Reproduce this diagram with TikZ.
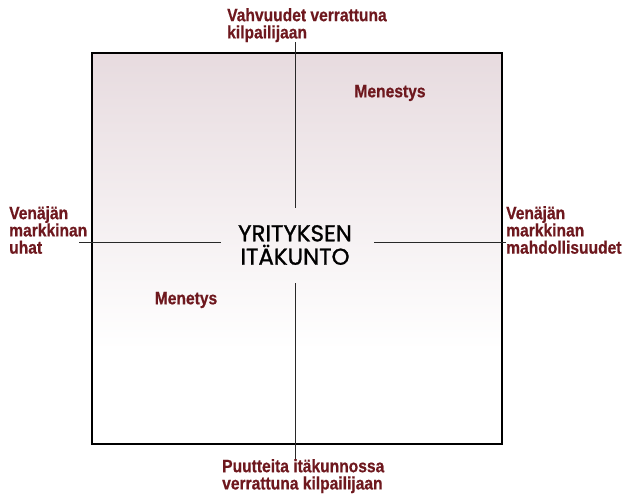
\documentclass[tikz,border=0pt]{standalone}
\usepackage{fontspec}
\setmainfont{Liberation Sans}
\newfontfamily\lblfont[FakeStretch=0.87,FakeBold=0.6]{Liberation Sans}
\newfontfamily\corefont[FakeBold=1.2]{Poppins}
\definecolor{lblred}{RGB}{110,24,30}
\definecolor{boxpink}{RGB}{231,219,223}
\definecolor{linegray}{RGB}{40,40,40}

\begin{document}
\begin{tikzpicture}[x=1bp,y=1bp,
  lbl/.style={inner sep=0pt,align=left,text=lblred,font=\lblfont\bfseries\fontsize{18}{17.3}\selectfont},
  core/.style={inner sep=0pt,align=center,font=\corefont\fontsize{23}{23.5}\selectfont},
  axisline/.style={draw=linegray,line width=0.8bp}]
\useasboundingbox (0,0) rectangle (624,-494);
\fill [white] (92,-53) rectangle (502,-444);
\shade [top color=boxpink,bottom color=white] (92,-53) rectangle (502,-350);
\draw [black,line width=1.1bp] (92,-53) rectangle (502,-444);
\node [lbl,anchor=north west] (strong) at (227,-8) {Vahvuudet verrattuna\\kilpailijaan};
\node [lbl,anchor=north west] (weak) at (222,-459) {Puutteita itäkunnossa\\verrattuna kilpailijaan};
\node [lbl,anchor=north west] (threat) at (9,-206) {Venäjän\\markkinan\\uhat};
\node [lbl,anchor=north west] (chance) at (506,-206) {Venäjän\\markkinan\\mahdollisuudet};
\node [lbl] (win) at (390,-93) {Menestys};
\node [lbl] (loss) at (186,-300) {Menetys};
\node [core] (firm) at (295,-245) {YRITYKSEN\\ITÄKUNTO};
\coordinate (nIn) at (295,-208);
\coordinate (sIn) at (295,-283);
\coordinate (wIn) at (221,-242);
\coordinate (eIn) at (374,-242);
\draw [axisline] (strong.south -| nIn) -- (nIn);
\draw [axisline] (sIn) -- (weak.north -| sIn);
\draw [axisline] ([xshift=-8bp]threat.east |- wIn) -- (wIn);
\draw [axisline] (eIn) -- (chance.west |- eIn);
\end{tikzpicture}
\end{document}
